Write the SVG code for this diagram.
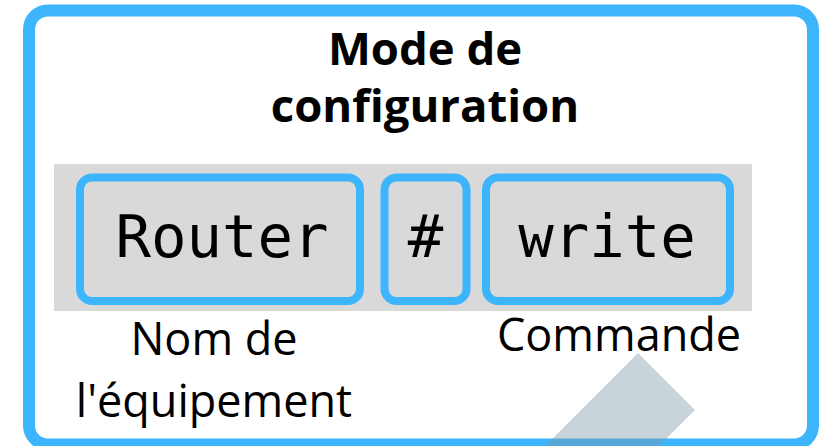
<svg xmlns="http://www.w3.org/2000/svg" width="820" height="446" viewBox="0 0 820 446">
<style>
.box{fill:#d9d9d9;stroke:#3cb5fd;stroke-width:8}
.mono{font-family:"DejaVu Sans Mono",monospace;font-size:59px;fill:#000;text-anchor:middle}
.lbl{font-family:"Open Sans","Noto Sans",sans-serif;font-size:45px;fill:#000;text-anchor:middle}
.title{font-family:"Open Sans","Noto Sans",sans-serif;font-size:45.5px;font-weight:bold;fill:#000;text-anchor:middle}
</style>
<rect width="820" height="446" fill="#ffffff"/>
<g id="frame">
<rect x="29" y="10.5" width="784" height="434" rx="19" fill="#ffffff" stroke="#3cb5fd" stroke-width="12"/>
<text class="title" x="425" y="65">Mode de</text>
<text class="title" x="425" y="122">configuration</text>
</g>
<rect id="band" x="54" y="164" width="698" height="147" fill="#d9d9d9"/>
<g id="router">
<rect class="box" x="80" y="177.5" width="280" height="123.5" rx="12"/>
<text class="mono" x="222" y="257">Router</text>
</g>
<g id="hash">
<rect class="box" x="384.5" y="177.5" width="82" height="123.5" rx="12"/>
<text class="mono" x="425.5" y="257">#</text>
</g>
<g id="write">
<rect class="box" x="486" y="177.5" width="244" height="123.5" rx="12"/>
<text class="mono" x="607" y="257">write</text>
</g>
<g id="labels">
<text class="lbl" x="214" y="355">Nom de</text>
<text class="lbl" x="214" y="417">l'équipement</text>
<text class="lbl" x="619" y="351">Commande</text>
</g>
<g id="connectors"></g>
<polygon id="shape" points="638,353 695,410 595,510 538,453" fill="#7f95a8" fill-opacity="0.42"/>
</svg>
